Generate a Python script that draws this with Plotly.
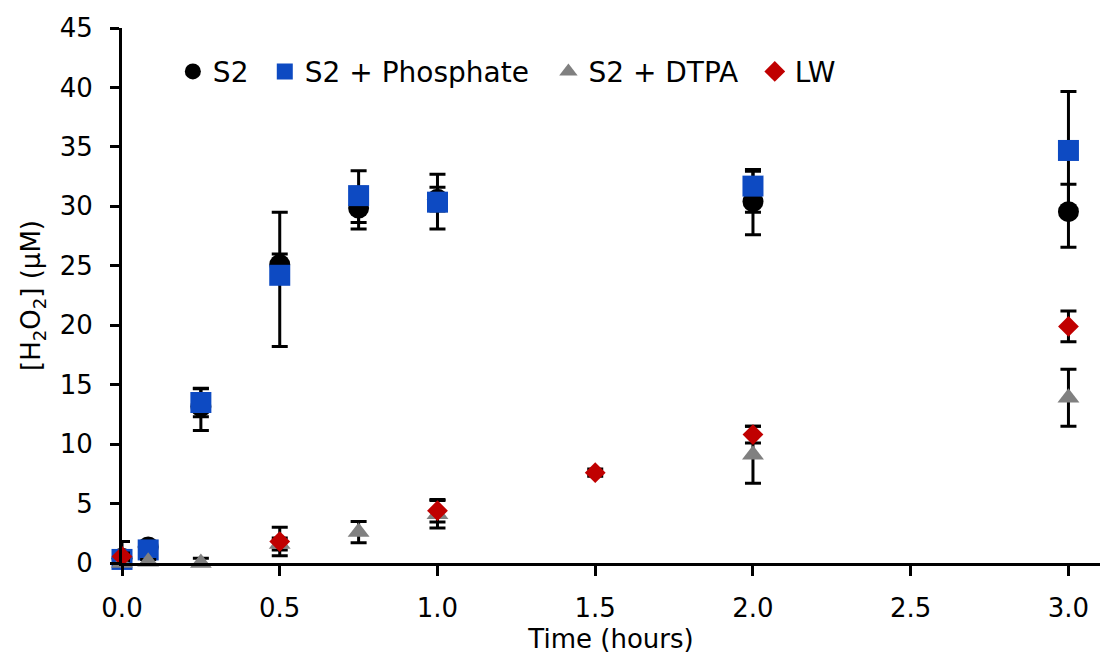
import plotly.graph_objects as go

# Sampling times (hours)
times = [0.0, 0.083, 0.25, 0.5, 0.75, 1.0, 2.0, 3.0]
times_lw = [0.0, 0.5, 1.0, 1.5, 2.0, 3.0]

# [H2O2] (µM) and error bar extents
s2 = [0.4, 1.35, 13.15, 25.1, 29.85, 30.6, 30.4, 29.55]
s2_err_plus = [1.4, 0.4, 1.5, 0.9, 1.75, 1.0, 2.7, 2.3]
s2_err_minus = [0.4, 0.4, 2.0, 0.9, 1.75, 1.0, 2.8, 3.0]

s2_phos = [0.3, 1.1, 13.5, 24.2, 30.9, 30.35, 31.7, 34.7]
phos_err_plus = [0.3, 0.3, 1.2, 5.3, 2.1, 2.35, 1.25, 4.95]
phos_err_minus = [0.3, 0.3, 1.2, 6.0, 2.25, 2.25, 2.2, 4.95]

s2_dtpa = [0.0, 0.1, 0.0, 1.6, 2.6, 4.1, 9.1, 13.9]
dtpa_err = [0.2, 0.2, 0.4, 0.5, 0.9, 1.15, 2.4, 2.4]

lw = [0.55, 1.8, 4.4, 7.6, 10.8, 19.9]
lw_err = [0.3, 1.2, 0.95, 0.3, 0.7, 1.3]

FONT = "DejaVu Sans"
SIZE = 26

# left edge (paper fraction) of each legend entry along the top row
legend_x = [0.052, 0.146, 0.436, 0.647]


def err(plus, minus=None):
    d = dict(type="data", array=plus, color="black", thickness=3, width=8)
    if minus is not None:
        d["symmetric"] = False
        d["arrayminus"] = minus
    return d


fig = go.Figure()
fig.add_trace(go.Scatter(
    x=times, y=s2, mode="markers", name="S2", legend="legend",
    marker=dict(symbol="circle", size=21, color="black"),
    error_y=err(s2_err_plus, s2_err_minus), cliponaxis=False))
fig.add_trace(go.Scatter(
    x=times, y=s2_phos, mode="markers", name="S2 + Phosphate", legend="legend2",
    marker=dict(symbol="square", size=21, color="#0D4AC2"),
    error_y=err(phos_err_plus, phos_err_minus), cliponaxis=False))
fig.add_trace(go.Scatter(
    x=times, y=s2_dtpa, mode="markers", name="S2 + DTPA", legend="legend3",
    marker=dict(symbol="triangle-up", size=19, color="#808080"),
    error_y=err(dtpa_err), cliponaxis=False))
fig.add_trace(go.Scatter(
    x=times_lw, y=lw, mode="markers", name="LW", legend="legend4",
    marker=dict(symbol="diamond", size=16, color="#C00000"),
    error_y=err(lw_err), cliponaxis=False))


def legend_box(x):
    return dict(orientation="h", x=x, y=0.965, xanchor="left", yanchor="top",
                font=dict(family=FONT, size=28, color="black"),
                bgcolor="rgba(0,0,0,0)", itemwidth=30)


fig.update_layout(
    width=1102, height=662,
    margin=dict(l=122, r=2, t=28, b=99),
    paper_bgcolor="white", plot_bgcolor="white",
    font=dict(family=FONT, size=SIZE, color="black"),
    showlegend=True,
    legend=legend_box(legend_x[0]),
    legend2=legend_box(legend_x[1]),
    legend3=legend_box(legend_x[2]),
    legend4=legend_box(legend_x[3]),
    xaxis=dict(range=[0, 3.1], tickmode="array",
               tickvals=[0, 0.5, 1.0, 1.5, 2.0, 2.5, 3.0], tickformat=".1f",
               showline=True, linecolor="black", linewidth=3,
               ticks="outside", ticklen=10, tickwidth=3, tickcolor="black",
               ticklabelstandoff=10,
               showgrid=False, zeroline=False,
               title=dict(text="Time (hours)", font=dict(family=FONT, size=SIZE), standoff=8)),
    yaxis=dict(range=[0, 45], dtick=5,
               showline=True, linecolor="black", linewidth=3,
               ticks="outside", ticklen=9, tickwidth=3, tickcolor="black",
               ticklabelstandoff=12,
               showgrid=False, zeroline=False,
               title=dict(text="[H<sub>2</sub>O<sub>2</sub>] (µM)",
                          font=dict(family=FONT, size=SIZE), standoff=12)),
)

fig.write_html("out.html")
